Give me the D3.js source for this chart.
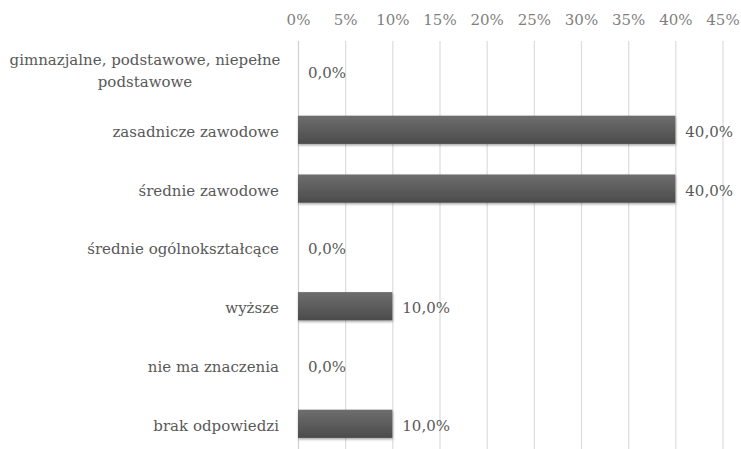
<!DOCTYPE html>
<html><head><meta charset="utf-8">
<script src="https://cdn.jsdelivr.net/npm/d3@7"></script>
<style>body{margin:0;background:#fff;} svg{display:block;}</style>
</head><body>
<svg id="c" width="741" height="449"></svg>
<script>
const categories = ["gimnazjalne, podstawowe, niepełne podstawowe","zasadnicze zawodowe","średnie zawodowe","średnie ogólnokształcące","wyższe","nie ma znaczenia","brak odpowiedzi"];
const values = [0, 40, 40, 0, 10, 0, 10];
const tickValues = [0,5,10,15,20,25,30,35,40,45];

const svg = d3.select("#c");
const font = "'DejaVu Serif', serif";
const fs = 15;
const x = d3.scaleLinear().domain([0,45]).range([298,722.5]);
const y = d3.scaleBand().domain(categories).range([41.6,453.2]).paddingInner(0.52).paddingOuter(0.26);

const defs = svg.append("defs");
const g = defs.append("linearGradient").attr("id","bg").attr("x1",0).attr("y1",0).attr("x2",0).attr("y2",1);
g.append("stop").attr("offset","0%").attr("stop-color","#6e6e6e");
g.append("stop").attr("offset","100%").attr("stop-color","#4b4b4b");
const f = defs.append("filter").attr("id","sh").attr("x","-5%").attr("y","-20%").attr("width","110%").attr("height","160%");
f.append("feDropShadow").attr("dx",0.5).attr("dy",1.5).attr("stdDeviation",1.2).attr("flood-color","#000").attr("flood-opacity",0.35);

// gridlines
svg.append("g").selectAll("line").data(tickValues).join("line")
  .attr("x1",d=>x(d)+0.5).attr("x2",d=>x(d)+0.5).attr("y1",41).attr("y2",449)
  .attr("stroke",d=>d===0?"#d0d0d0":"#dcdcdc").attr("stroke-width",1.2);

// top axis
const ax = svg.append("g").attr("transform","translate(0,25)")
  .call(d3.axisTop(x).tickValues(tickValues).tickFormat(d=>d+"%").tickSize(0).tickPadding(0));
ax.select(".domain").remove();
ax.selectAll("text").attr("font-family",font).attr("font-size",fs).attr("fill","#7f7f7f");

// bars
svg.append("g").selectAll("rect").data(categories.map((c,i)=>({c,v:values[i]})).filter(d=>d.v>0)).join("rect")
  .attr("x",x(0)).attr("y",d=>y(d.c)).attr("width",d=>x(d.v)-x(0)).attr("height",y.bandwidth())
  .attr("fill","url(#bg)").attr("filter","url(#sh)");

// value labels
svg.append("g").selectAll("text").data(categories.map((c,i)=>({c,v:values[i]}))).join("text")
  .attr("x",d=>x(d.v)+10).attr("y",d=>y(d.c)+y.bandwidth()/2+7)
  .attr("font-family",font).attr("font-size",fs).attr("fill","#595959")
  .text(d=>d.v.toFixed(1).replace(".",",")+"%");

// category labels
const lab = svg.append("g").selectAll("text").data(categories).join("text")
  .attr("text-anchor","middle").attr("font-family",font).attr("font-size",fs).attr("fill","#595959");
lab.each(function(d){
  const t = d3.select(this);
  const cy = y(d)+y.bandwidth()/2;
  if(d.startsWith("gimnazjalne")){
    t.append("tspan").attr("x",145).attr("y",cy-6).text("gimnazjalne, podstawowe, niepełne");
    t.append("tspan").attr("x",145).attr("y",cy+16).text("podstawowe");
  } else {
    t.attr("text-anchor","end").attr("x",279).attr("y",cy+7).text(d);
  }
});
</script>
</body></html>
